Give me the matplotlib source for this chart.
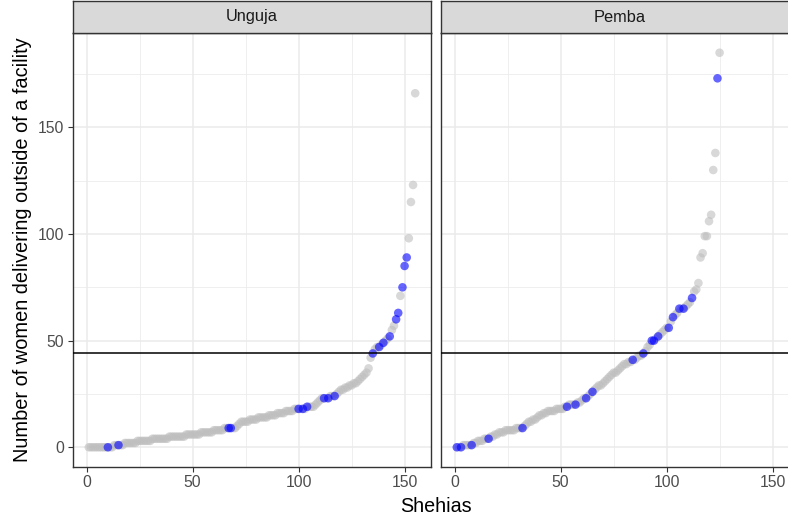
import numpy as np
import matplotlib
matplotlib.use("Agg")
import matplotlib.pyplot as plt
from matplotlib.ticker import MultipleLocator

plt.rcParams['font.family'] = ['Liberation Sans', 'DejaVu Sans']

# Facet labels
facets = ["Unguja", "Pemba"]

# Sorted number of women delivering outside of a facility per shehia
unguja_counts = [
    0, 0, 0, 0, 0, 0, 0, 0, 0, 0, 0, 0,
    1, 1, 1, 1, 1,
    2, 2, 2, 2, 2, 2,
    3, 3, 3, 3, 3, 3, 3,
    4, 4, 4, 4, 4, 4, 4, 4,
    5, 5, 5, 5, 5, 5, 5, 5,
    6, 6, 6, 6, 6, 6, 6,
    7, 7, 7, 7, 7, 7,
    8, 8, 8, 8, 8,
    9, 9, 9, 9, 9, 9,
    10, 11,
    12, 12, 12, 12,
    13, 13, 13, 13,
    14, 14, 14, 14, 14,
    15, 15, 15, 15,
    16, 16, 16, 16,
    17, 17, 17, 17,
    18, 18, 18, 18, 18, 18,
    19, 19, 19, 19,
    20, 21, 22,
    23, 23, 23, 23,
    24, 24, 24,
    25, 26, 27, 27, 28, 28, 29, 29, 30, 30, 31, 32, 33,
    34, 35, 37, 42,
    44, 46, 47, 47, 48, 49, 50, 51, 52, 55, 57, 60, 63,
    71, 75, 85, 89, 98, 115, 123, 166,
]
# Ranks (1-based) of highlighted shehias
unguja_highlight = [10, 15, 67, 68, 100, 102, 104, 112, 114, 117,
                    135, 138, 140, 143, 146, 147, 149, 150, 151]

pemba_counts = [
    0, 0, 0,
    1, 1, 1, 1, 1,
    2, 2,
    3, 3, 3,
    4, 4, 4,
    5, 5,
    6, 6,
    7, 7, 7,
    8, 8, 8, 8, 8,
    9, 9, 9, 9,
    10, 11, 12, 12, 13, 13, 14, 15, 15, 16, 16,
    17, 17, 17, 17,
    18, 18, 18, 18,
    19, 19,
    20, 20, 20, 20,
    21, 21, 22, 23, 23, 24, 25, 26,
    27, 28, 29, 29, 30, 31, 32, 33, 34, 35, 35, 36, 37, 38, 39, 39, 40, 40, 41, 41,
    42, 43, 43, 44,
    45, 47, 48, 50, 50, 51, 52, 53, 54, 55, 56, 56,
    59, 61, 62, 63, 65, 65, 65, 66, 67, 68, 70,
    73, 74, 77, 89, 91, 99, 99, 106, 109, 130, 138, 173, 185,
]
pemba_highlight = [1, 3, 8, 16, 32, 53, 57, 62, 65, 84, 89, 93, 94, 96,
                   101, 103, 106, 108, 112, 124]

threshold = 44

panels = [(unguja_counts, unguja_highlight), (pemba_counts, pemba_highlight)]

W, H = 788, 523
fig = plt.figure(figsize=(W / 100, H / 100), dpi=100)

panel_w = 359
lefts = [72.5, 440.5]
top, bottom = 33, 467
strip_top = 1

xmax_data = max(len(unguja_counts), len(pemba_counts))
ymax_data = max(max(unguja_counts), max(pemba_counts))
xpad = (xmax_data - 1) * 0.05
ypad = ymax_data * 0.05

grid_col = "#EBEBEB"
frame_col = "#333333"
tick_col = "#4D4D4D"

for i, (name, (counts, hl)) in enumerate(zip(facets, panels)):
    left = lefts[i]
    ax = fig.add_axes([left / W, 1 - bottom / H, panel_w / W, (bottom - top) / H])
    ranks = np.arange(1, len(counts) + 1)
    vals = np.asarray(counts, dtype=float)
    mask = np.isin(ranks, hl)

    ax.scatter(ranks[~mask], vals[~mask], s=38, color="#BEBEBE", alpha=0.6,
               edgecolors="none", zorder=3)
    ax.scatter(ranks[mask], vals[mask], s=38, color="#0000FF", alpha=0.6,
               edgecolors="none", zorder=4)
    ax.axhline(threshold, color="black", lw=1.1, zorder=5)

    ax.set_xlim(1 - xpad, xmax_data + xpad)
    ax.set_ylim(0 - ypad, ymax_data + ypad)
    ax.xaxis.set_major_locator(MultipleLocator(50))
    ax.xaxis.set_minor_locator(MultipleLocator(25))
    ax.yaxis.set_major_locator(MultipleLocator(50))
    ax.yaxis.set_minor_locator(MultipleLocator(25))
    ax.grid(which="major", color=grid_col, lw=1.1, zorder=0)
    ax.grid(which="minor", color=grid_col, lw=0.55, zorder=0)
    ax.set_axisbelow(True)
    ax.tick_params(which="minor", length=0)
    ax.tick_params(which="major", length=3.5, width=0.8, color=frame_col,
                   labelcolor=tick_col, labelsize=11.3, pad=2.5)
    for sp in ax.spines.values():
        sp.set_color(frame_col)
        sp.set_linewidth(1.0)
    if i > 0:
        ax.tick_params(axis="y", labelleft=False, left=False)
    else:
        ax.set_ylabel("Number of women delivering outside of a facility",
                      fontsize=14.4, color="black", labelpad=4)

    sax = fig.add_axes([left / W, 1 - top / H, panel_w / W, (top - strip_top) / H])
    sax.set_facecolor("#D9D9D9")
    sax.set_xticks([])
    sax.set_yticks([])
    for sp in sax.spines.values():
        sp.set_color(frame_col)
        sp.set_linewidth(1.0)
    sax.text(0.5, 0.5, name, transform=sax.transAxes, ha="center", va="center",
             fontsize=11.8, color="#1A1A1A")

fig.text((72.5 + 440.5 + panel_w) / 2 / W, 1 - 506 / H, "Shehias",
         ha="center", va="center", fontsize=14.2, color="black")

fig.savefig("out.png", dpi=100)
